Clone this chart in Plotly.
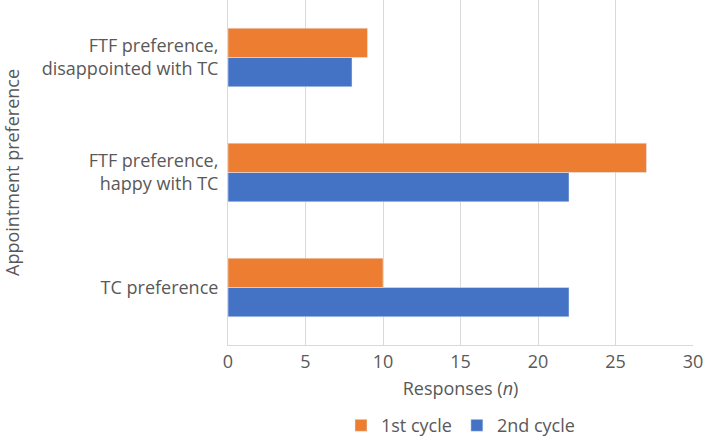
import plotly.graph_objects as go

# categories from bottom to top
categories = ["TC preference", "FTF preference,<br>happy with TC", "FTF preference,<br>disappointed with TC"]
first_cycle = [10, 27, 9]
second_cycle = [22, 22, 8]

text_color = "#595959"
font_family = "Open Sans, Noto Sans, sans-serif"
fs = 18

fig = go.Figure()
# second cycle added first so it sits below 1st cycle in each group
fig.add_trace(go.Bar(y=categories, x=second_cycle, orientation="h", name="2nd cycle",
                     marker_color="#4472C4"))
fig.add_trace(go.Bar(y=categories, x=first_cycle, orientation="h", name="1st cycle",
                     marker_color="#ED7D31"))

fig.update_layout(
    width=705, height=438,
    margin=dict(l=228, r=12, t=0, b=93, autoexpand=False),
    barmode="group", bargap=0.49, bargroupgap=0,
    plot_bgcolor="white", paper_bgcolor="white",
    font=dict(family=font_family, size=fs, color=text_color),
    legend=dict(orientation="h", traceorder="reversed", x=0.5, xanchor="center",
                y=-0.18, yanchor="top", font=dict(size=fs, color=text_color),
                itemwidth=30),
    xaxis=dict(range=[0, 30], dtick=5, showgrid=True, gridcolor="#d9d9d9",
               showline=True, linecolor="#d9d9d9", zeroline=False, automargin=False,
               ticklabelstandoff=0,
               title=dict(text="Responses (<i>n</i>)", font=dict(size=fs, color=text_color), standoff=10),
               tickfont=dict(size=fs, color=text_color)),
    yaxis=dict(showline=True, linecolor="#d9d9d9", ticks="", ticklabelstandoff=5,
               automargin=False,
               title=dict(text="Appointment preference", font=dict(size=fs, color=text_color),
                          standoff=20),
               tickfont=dict(size=fs, color=text_color)),
)

# drop the default page margin so the figure fills the window exactly
fig.write_html("out.html", config={"displayModeBar": False},
               post_script="document.body.style.margin='0';")
